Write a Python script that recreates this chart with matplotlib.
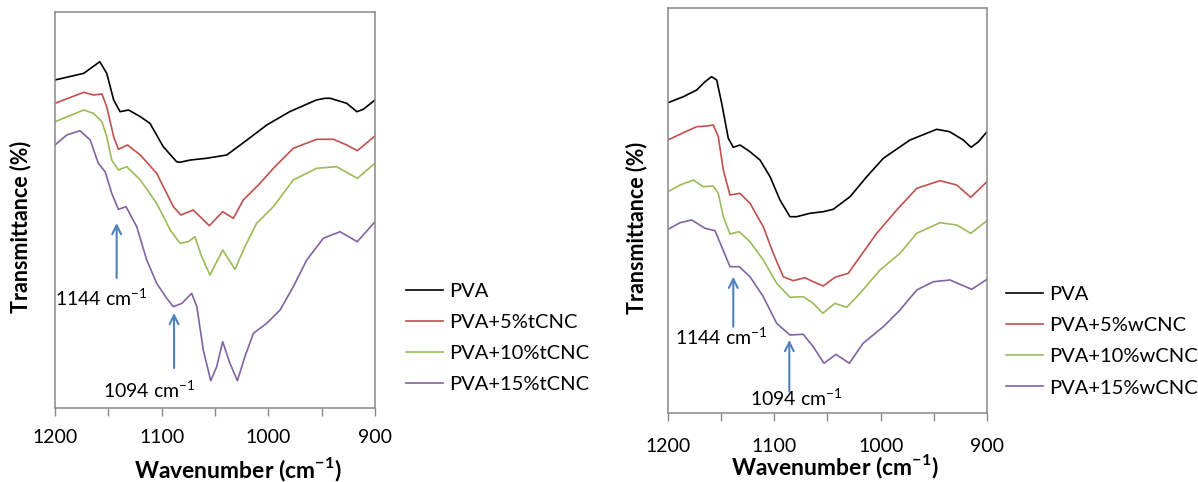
import matplotlib.pyplot as plt

plt.rcParams["font.family"] = ["Lato", "DejaVu Sans"]
plt.rcParams["mathtext.fontset"] = "custom"
plt.rcParams["mathtext.rm"] = "Lato"
plt.rcParams["mathtext.bf"] = "Lato:bold"

# ---- tCNC films (transmittance, arbitrary units) ----
t_pva_x = [1200, 1173, 1158, 1151.5, 1145, 1139, 1131, 1120, 1111, 1098.5, 1086, 1083,
           1073, 1058, 1039, 1020, 1001.5, 980, 955, 947, 942, 926.5, 917, 911, 900]
t_pva_y = [328, 334.7, 346.3, 334.7, 308, 296.3, 298, 291.3, 284.7, 261.3, 246.3, 245.7,
           248, 249.7, 253, 268, 283, 296.3, 308, 309.7, 309.7, 304.7, 296.3, 298.7, 308]

t_5_x = [1200, 1173, 1164, 1156, 1151.5, 1145, 1140.6, 1132, 1120, 1104.7, 1089, 1082,
         1070.3, 1064, 1055.3, 1042.8, 1032.8, 1023.5, 1007.8, 995.3, 976.6, 954.7, 939,
         926.5, 916.6, 900]
t_5_y = [304.7, 315.7, 313, 314, 301.3, 271.3, 258.7, 263, 253, 234.7, 201.3, 193,
         198, 191.3, 182.3, 196.3, 189.7, 208, 224.7, 239.7, 259.7, 268.7, 268.7,
         263, 257.3, 272]

t_10_x = [1200, 1173, 1164, 1156, 1151.5, 1146.8, 1140.6, 1132.8, 1120, 1104.7, 1092,
          1082.8, 1075, 1068.8, 1062.5, 1054.7, 1042.8, 1031.3, 1022, 1011, 995.3, 976.6,
          954.7, 936, 916.6, 900]
t_10_y = [286.3, 298, 294.7, 286.3, 271.3, 248, 238, 241.3, 228, 204.7, 178,
          164.7, 166.3, 171.3, 151.3, 133, 158, 138.7, 161.3, 184.7, 201.3, 228,
          239.7, 241.3, 229.7, 244.7]

t_15_x = [1200, 1189, 1176.6, 1167, 1159.4, 1153, 1146.8, 1140.6, 1133.4, 1123.4, 1114,
          1104.7, 1095.3, 1089, 1081, 1071.9, 1067, 1061, 1054, 1048.4, 1042.8, 1036,
          1029, 1022, 1014, 1001.5, 989, 976.6, 964, 948.5, 932.8, 916.6, 900]
t_15_y = [263, 273, 277.3, 268, 244.7, 236.3, 214.7, 198.7, 201.3, 181.3, 148,
          124.7, 109.7, 101.3, 104.7, 114.7, 101.3, 58, 27.3, 41.3, 66.3, 44.7,
          27.3, 51.3, 74.7, 84.7, 98, 121.3, 148, 169.7, 176.3, 166.3, 186.3]

# ---- wCNC films ----
w_pva_x = [1200, 1185.6, 1173, 1165.2, 1159, 1154.2, 1149.5, 1143.3, 1138.6, 1132.3,
           1122.9, 1113.5, 1104, 1094.7, 1085.3, 1079, 1066.5, 1054, 1044.6, 1028.8,
           1013.1, 997.5, 972.4, 947.3, 935.2, 922.3, 915, 908, 900]
w_pva_y = [310.3, 316.3, 323, 331.3, 336.3, 333, 309.7, 274.7, 265.7, 268,
           261.3, 253, 236.3, 213, 196.3, 196.3, 199.7, 201.3, 203.7, 216.3,
           236.3, 254.7, 273, 283.7, 281.3, 273, 265.7, 271.3, 281.3]

w_5_x = [1200, 1185.6, 1173, 1163.6, 1157.4, 1152.7, 1148, 1141.7, 1132.3, 1122.9,
         1110.4, 1101, 1091.6, 1082.2, 1071.3, 1063.4, 1054, 1043, 1030.5, 1019.4,
         1003.7, 984.9, 966.1, 944.2, 928.5, 915.3, 900]
w_5_y = [273, 280.3, 286.3, 287, 288, 276.3, 243, 218, 219.7, 209.7,
         186.3, 159.7, 136.3, 132.3, 135.3, 131.3, 127, 135.7, 139.7, 156.3,
         179.7, 203, 224.7, 232.3, 228, 215.7, 231.3]

w_10_x = [1200, 1188.7, 1176.2, 1166.8, 1157.4, 1152.7, 1148, 1141.7, 1133, 1122.9,
          1110.4, 1097.8, 1085.3, 1072.8, 1063.4, 1054.5, 1043, 1032, 1019.4, 1000.6,
          981.8, 966.1, 944.2, 928.5, 915.3, 900]
w_10_y = [221.3, 228, 233, 226.3, 227, 219.7, 196.3, 179, 181.3, 171.3,
          153, 129.7, 115.7, 116.3, 109.7, 99.7, 109.7, 105.7, 119.7, 143,
          159.7, 179.7, 190.3, 188, 179.7, 192.3]

w_15_x = [1200, 1188.7, 1177.7, 1165.2, 1155.8, 1149.5, 1141.7, 1133, 1122.9, 1110.4,
          1097.8, 1085.3, 1072.8, 1063.4, 1053.3, 1042, 1029.5, 1016.6, 997.5, 981.8,
          966.1, 950.5, 934.8, 914.4, 900]
w_15_y = [183.7, 190.3, 193, 184.7, 182.3, 166.3, 146.3, 146.3, 136.3, 116.3,
          89.7, 78, 78.7, 66.3, 49.7, 58.7, 49.7, 69.7, 86.3, 103,
          123, 131.3, 133, 123.7, 133.7]

colors = ["black", "#C0504D", "#9BBB59", "#8064A2"]
arrow_color = "#4F81BD"
frame_color = "#898989"

fig = plt.figure(figsize=(11.98, 4.82), dpi=100)
ax1 = fig.add_axes([55 / 1198, 74 / 482, 320 / 1198, 396 / 482])
ax2 = fig.add_axes([668 / 1198, 69 / 482, 319 / 1198, 405 / 482])


def draw_panel(ax, curves, labels, ymax, arrows, peak_labels, xlab_pos, ylab_x, tick_pad):
    for (x, y), lab, c in zip(curves, labels, colors):
        ax.plot(x, y, color=c, lw=1.2, label=lab, solid_joinstyle="round")
    ax.set_xlim(1200, 900)
    ax.set_ylim(0, ymax)
    ax.set_yticks([])
    ax.set_xticks([1200, 1150, 1100, 1050, 1000, 950, 900])
    ax.set_xticklabels(["1200", "", "1100", "", "1000", "", "900"])
    ax.tick_params(axis="x", direction="out", length=6, width=1, color=frame_color,
                   labelsize=14, pad=tick_pad)
    for s in ax.spines.values():
        s.set_color(frame_color)
        s.set_linewidth(1.1)
    ax.set_xlabel(r"Wavenumber (cm$^{\mathbf{-1}}$)", fontsize=16.5, fontweight="bold", va="center")
    ax.xaxis.set_label_coords(*xlab_pos)
    ax.set_ylabel("Transmittance (%)", fontsize=15.5, fontweight="bold", va="center")
    ax.yaxis.set_label_coords(ylab_x, 0.457)
    for (x, y0, y1) in arrows:
        ax.annotate("", xy=(x, y1), xytext=(x, y0),
                    arrowprops=dict(arrowstyle="->", color=arrow_color, lw=1.5,
                                    mutation_scale=16, shrinkA=0, shrinkB=0))
    for (x, y, txt) in peak_labels:
        ax.text(x, y, txt, fontsize=14, ha="center", va="center")


draw_panel(ax1,
           [(t_pva_x, t_pva_y), (t_5_x, t_5_y), (t_10_x, t_10_y), (t_15_x, t_15_y)],
           ["PVA", "PVA+5%tCNC", "PVA+10%tCNC", "PVA+15%tCNC"], 396,
           [(1142.2, 130, 185), (1088.4, 40, 95)],
           [(1157, 110, r"1144 cm$^{-1}$"), (1112, 18, r"1094 cm$^{-1}$")],
           (0.572, -0.157), -0.109, 9)

draw_panel(ax2,
           [(w_pva_x, w_pva_y), (w_5_x, w_5_y), (w_10_x, w_10_y), (w_15_x, w_15_y)],
           ["PVA", "PVA+5%wCNC", "PVA+10%wCNC", "PVA+15%wCNC"], 405,
           [(1138.6, 86.3, 136.3), (1085.9, 21.3, 73)],
           [(1149.5, 76.3, r"1144 cm$^{-1}$"), (1079.6, 14.7, r"1094 cm$^{-1}$")],
           (0.523, -0.133), -0.100, 12)

for ax, pos in [(ax1, (406 / 1198, 0.2988)), (ax2, (1006 / 1198, 0.2921))]:
    ax.legend(loc="center left", bbox_to_anchor=pos, bbox_transform=fig.transFigure,
              frameon=False, fontsize=14.5, handlelength=1.85, handletextpad=0.3,
              labelspacing=0.7, borderpad=0, borderaxespad=0)

fig.savefig("out.png", dpi=100)
